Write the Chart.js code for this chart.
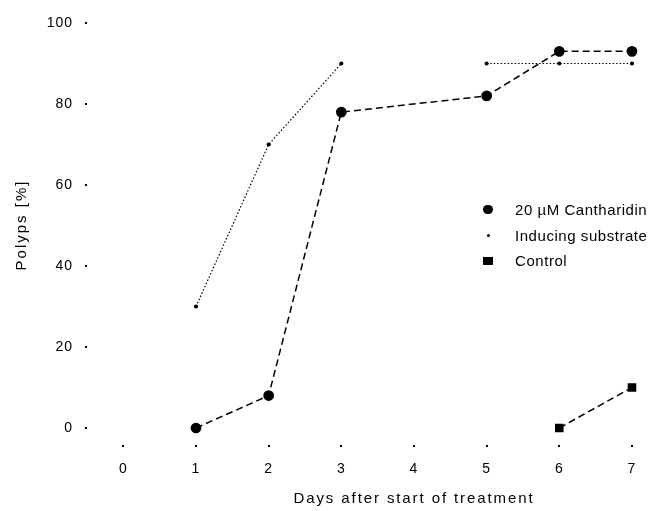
<!DOCTYPE html>
<html>
<head>
<meta charset="utf-8">
<script src="https://cdn.jsdelivr.net/npm/chart.js@4/dist/chart.umd.min.js"></script>
<style>
  html, body { margin: 0; padding: 0; background: #fff; }
  #wrap { position: relative; width: 650px; height: 511px; }
  #legend { position: absolute; left: 478px; top: 197px; font: 15px "Liberation Sans", Arial, sans-serif; letter-spacing: 0.55px; color: #000; }
  .row { height: 25.5px; display: flex; align-items: center; white-space: nowrap; }
  .mk { width: 37px; display: flex; justify-content: flex-start; align-items: center; padding-left: 5px; box-sizing: border-box; }
</style>
</head>
<body>
<div id="wrap">
  <canvas id="c" width="650" height="511"></canvas>
  <div id="legend"></div>
</div>
<script>
// Data
const xTickLabels = ["0", "1", "2", "3", "4", "5", "6", "7"];
const yTickLabels = ["0", "20", "40", "60", "80", "100"];

const cantharidinDays = [1, 2, 3, 5, 6, 7];
const cantharidinValues = [0, 8, 78, 82, 93, 93];

const inducingDays = [1, 2, 3, 4, 5, 6, 7];
const inducingValues = [30, 70, 90, null, 90, 90, 90];

const controlDays = [6, 7];
const controlValues = [0, 10];

const seriesLabels = ["20 µM Cantharidin", "Inducing substrate", "Control"];
const xTitle = "Days after start of treatment";
const yTitle = "Polyps [%]";

const toPts = (xs, ys) => xs.map((x, i) => ({ x: x, y: ys[i] }));

const FONT = '"Liberation Sans", Arial, sans-serif';

const textPlugin = {
  id: 'textPlugin',
  beforeDraw(chart) {
    chart.ctx.letterSpacing = '1px';
  },
  afterDraw(chart) {
    const ctx = chart.ctx;
    const xs = chart.scales.x;
    const area = chart.chartArea;
    ctx.save();
    ctx.font = '15px ' + FONT;
    ctx.letterSpacing = '1.9px';
    ctx.fillStyle = '#000';
    ctx.textAlign = 'center';
    ctx.textBaseline = 'middle';
    ctx.fillText(xTitle, xs.getPixelForValue(4), 499);
    ctx.translate(22, (area.top + area.bottom) / 2 - 9);
    ctx.rotate(-Math.PI / 2);
    ctx.letterSpacing = '2px';
    ctx.fillText(yTitle, 0, 0);
    ctx.restore();
  }
};

const chart = new Chart(document.getElementById('c'), {
  type: 'line',
  data: {
    datasets: [
      {
        label: seriesLabels[0],
        data: toPts(cantharidinDays, cantharidinValues),
        borderColor: '#000',
        backgroundColor: '#000',
        borderWidth: 1.5,
        borderDash: [7, 4],
        pointStyle: 'circle',
        pointRadius: 4.6,
        pointBackgroundColor: '#000',
        pointBorderColor: '#000',
        spanGaps: true,
        tension: 0
      },
      {
        label: seriesLabels[1],
        data: toPts(inducingDays, inducingValues),
        borderColor: '#000',
        backgroundColor: '#000',
        borderWidth: 1.2,
        borderDash: [1.5, 2],
        pointStyle: 'circle',
        pointRadius: 1.5,
        pointBackgroundColor: '#000',
        pointBorderColor: '#000',
        spanGaps: false,
        tension: 0
      },
      {
        label: seriesLabels[2],
        data: toPts(controlDays, controlValues),
        borderColor: '#000',
        backgroundColor: '#000',
        borderWidth: 1.5,
        borderDash: [7, 4],
        pointStyle: 'rect',
        pointRadius: 5,
        pointBackgroundColor: '#000',
        pointBorderColor: '#000',
        tension: 0
      }
    ]
  },
  options: {
    responsive: false,
    animation: false,
    layout: { padding: { top: 23, right: 7, left: 0, bottom: 0 } },
    plugins: { legend: { display: false }, tooltip: { enabled: false } },
    scales: {
      x: {
        type: 'linear',
        min: -0.5,
        max: 7.15,
        border: { display: false },
        grid: { drawOnChartArea: false, drawTicks: true, tickLength: 2, color: '#000', lineWidth: 2 },
        afterBuildTicks(scale) {
          scale.ticks = xTickLabels.map(v => ({ value: Number(v) }));
        },
        afterFit(scale) { scale.height = 66; },
        ticks: {
          padding: 14,
          color: '#000',
          font: { size: 14, family: FONT },
          callback: (v) => xTickLabels[xTickLabels.indexOf(String(v))]
        }
      },
      y: {
        type: 'linear',
        min: -4.2,
        max: 100,
        border: { display: false },
        grid: { drawOnChartArea: false, drawTicks: true, tickLength: 2, color: '#000', lineWidth: 2 },
        afterBuildTicks(scale) {
          scale.ticks = yTickLabels.map(v => ({ value: Number(v) }));
        },
        afterFit(scale) { scale.width = 87; },
        ticks: {
          padding: 12,
          color: '#000',
          font: { size: 14, family: FONT },
          callback: (v) => yTickLabels[yTickLabels.indexOf(String(v))]
        }
      }
    }
  },
  plugins: [textPlugin]
});

// HTML legend built from the datasets
const legend = document.getElementById('legend');
chart.data.datasets.forEach(ds => {
  const row = document.createElement('div');
  row.className = 'row';
  const mk = document.createElement('div');
  mk.className = 'mk';
  const shape = document.createElement('div');
  if (ds.pointStyle === 'rect') {
    shape.style.cssText = 'width:10px;height:8px;background:#000;';
  } else {
    const r = ds.pointRadius;
    shape.style.cssText = 'width:' + (2 * r) + 'px;height:' + (2 * r) + 'px;border-radius:50%;background:#000;margin-left:' + (5 - r) + 'px;';
  }
  mk.appendChild(shape);
  const txt = document.createElement('span');
  txt.textContent = ds.label;
  row.appendChild(mk);
  row.appendChild(txt);
  legend.appendChild(row);
});
</script>
</body>
</html>
